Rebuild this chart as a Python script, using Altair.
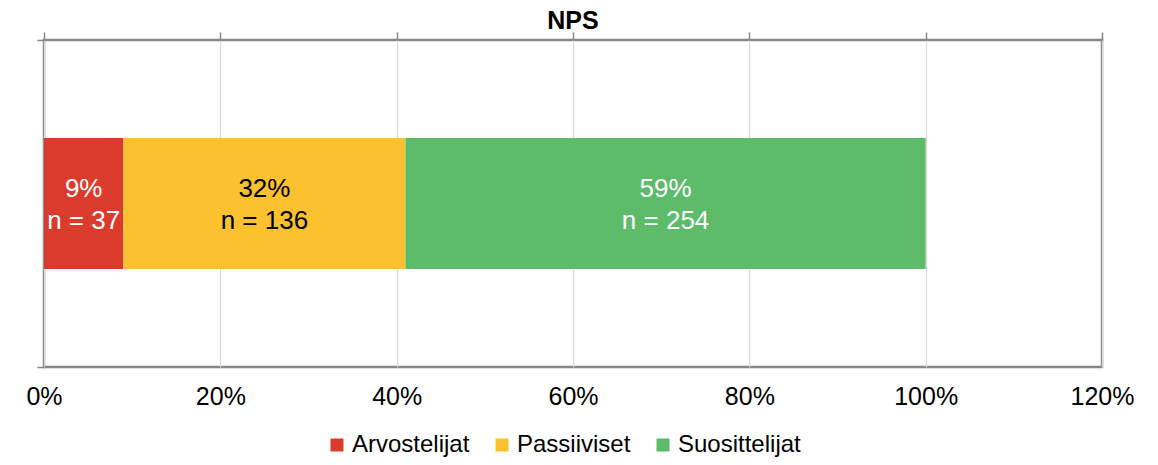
import altair as alt
import pandas as pd

categories = ["Arvostelijat", "Passiiviset", "Suosittelijat"]
shares = [0.09, 0.32, 0.59]
counts = [37, 136, 254]
pct_labels = ["9%", "32%", "59%"]
colors = ["#DB3B2C", "#FCC12E", "#5CBC6A"]
text_colors = ["#FFFFFF", "#000000", "#FFFFFF"]
x_ticks = [0, 0.2, 0.4, 0.6, 0.8, 1.0, 1.2]

FONT = "Liberation Sans"
BORDER = "#878787"

df = pd.DataFrame({
    "row": ["NPS"] * 3,
    "category": categories,
    "share": shares,
    "n": counts,
    "pct": pct_labels,
    "tcolor": text_colors,
    "order": [0, 1, 2],
})
df["label"] = [f"{p}\nn = {n}" for p, n in zip(pct_labels, counts)]

frame_df = pd.DataFrame({"yv": [0, 1]})

xscale = alt.Scale(domain=[0, 1.2], nice=False, zero=True)
yband = alt.Scale(paddingInner=0, paddingOuter=0.75)

bars = alt.Chart(df).mark_bar().encode(
    x=alt.X("share:Q", stack="zero", scale=xscale,
            axis=alt.Axis(orient="bottom", values=x_ticks, format=".0%", title=None,
                          labelFont=FONT, labelFontSize=25, labelColor="#000000",
                          labelPadding=17, labelFlush=False, ticks=False, domain=False,
                          grid=True, gridColor="#D9D9D9", gridWidth=1.2)),
    y=alt.Y("row:N", axis=None, scale=yband),
    color=alt.Color("category:N", sort=categories,
                    scale=alt.Scale(domain=categories, range=colors),
                    legend=alt.Legend(orient="none", direction="horizontal", title=None,
                                      legendX=281, legendY=393,
                                      symbolType="square", symbolSize=169,
                                      symbolStrokeWidth=0, symbolOpacity=1,
                                      labelFont=FONT, labelFontSize=24, labelColor="#000000",
                                      labelOffset=3, columnPadding=20)),
    order=alt.Order("order:Q"),
)

labels = alt.Chart(df).transform_stack(
    stack="share", groupby=["row"], as_=["x0", "x1"],
    sort=[alt.SortField("order")],
).transform_calculate(
    mid="(datum.x0 + datum.x1) / 2"
).mark_text(font=FONT, fontSize=26, lineBreak="\n", lineHeight=32,
            align="center", baseline="middle", dy=-15).encode(
    x=alt.X("mid:Q", scale=xscale,
            axis=alt.Axis(orient="top", values=x_ticks, labels=False, title=None,
                          ticks=True, tickSize=8, tickColor=BORDER, tickWidth=1.5,
                          domain=False, grid=False)),
    y=alt.Y("row:N", axis=None, scale=yband),
    text="label:N",
    color=alt.Color("tcolor:N", scale=None),
)

left_ticks = alt.Chart(frame_df).mark_rule(opacity=0).encode(
    y=alt.Y("yv:Q", scale=alt.Scale(domain=[0, 1], nice=False),
            axis=alt.Axis(orient="left", values=[0, 1], labels=False, title=None,
                          ticks=True, tickSize=7, tickColor=BORDER, tickWidth=1.5,
                          domain=False, grid=False)),
)

chart = alt.layer(bars, labels, left_ticks).resolve_scale(
    y="independent", color="independent"
).resolve_axis(
    x="independent"
).properties(
    width=1058, height=327,
    autosize=alt.AutoSizeParams(type="none"),
    padding={"left": 36, "top": 32, "right": 48, "bottom": 90},
    title=alt.TitleParams(text="NPS", font=FONT, fontSize=25, fontWeight="bold",
                          color="#000000", anchor="middle", offset=-3),
).configure(
    background="#FFFFFF"
).configure_view(
    stroke=BORDER, strokeWidth=2.5
)

chart.save("out.html", embed_options={"renderer": "svg", "actions": False})
